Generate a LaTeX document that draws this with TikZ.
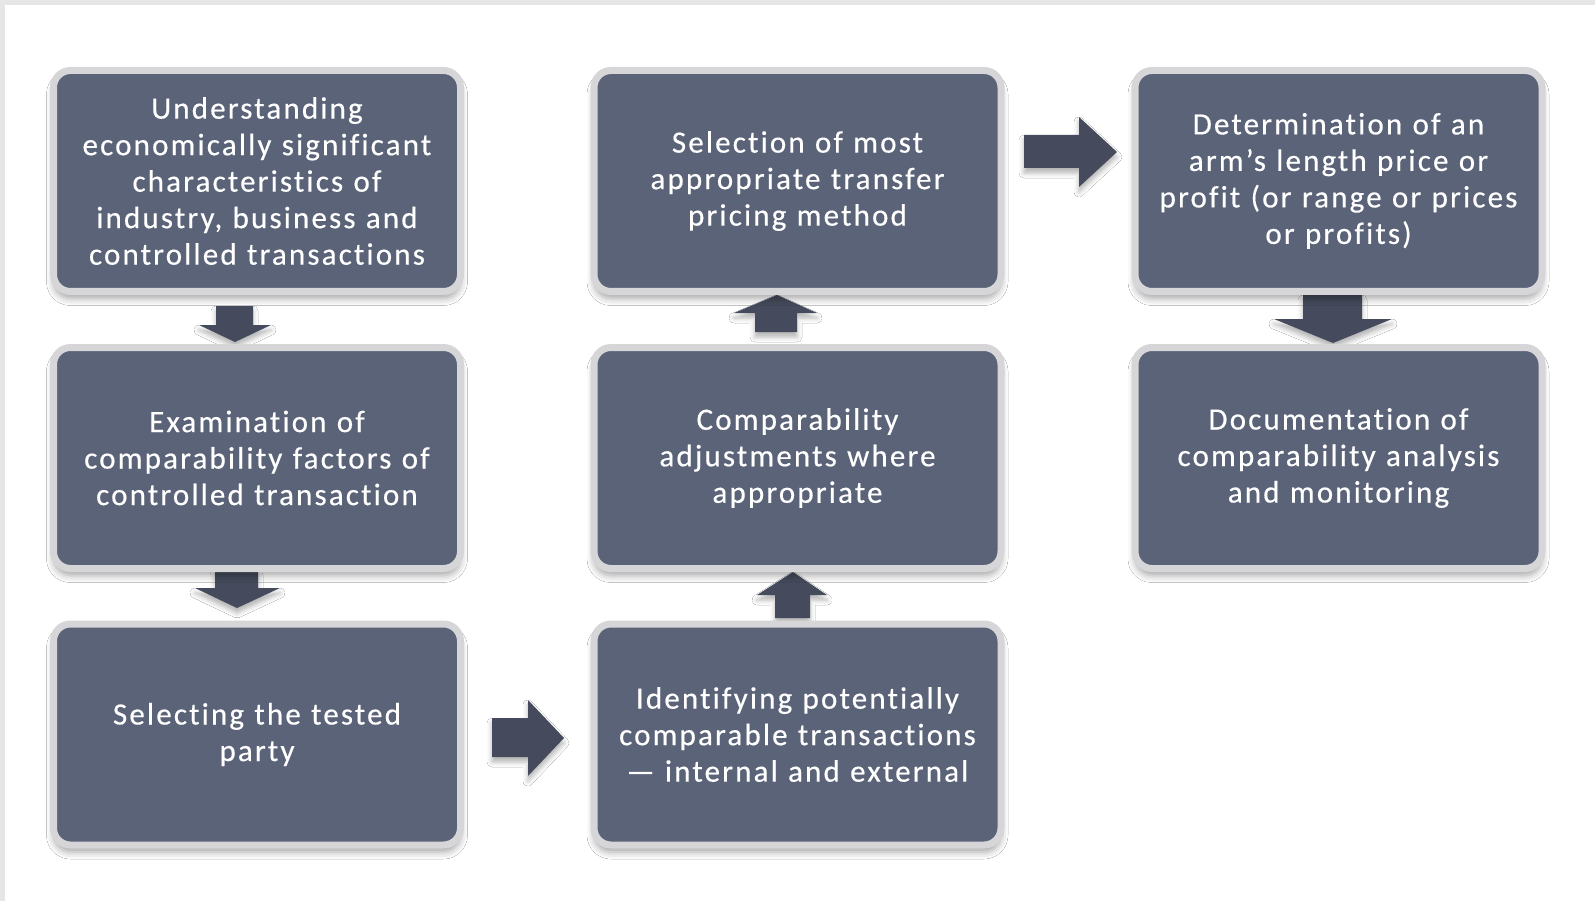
\documentclass[tikz,border=0pt]{standalone}
\usepackage{fontspec}
\setmainfont{Carlito}[LetterSpace=7, Ligatures=NoCommon, FakeBold=0.4]
\usetikzlibrary{shadows.blur}
\definecolor{boxfill}{HTML}{5B6378}
\definecolor{boxrim}{HTML}{D6D6D8}
\definecolor{arrowcol}{HTML}{454B5C}
\definecolor{framegray}{HTML}{E6E6E6}
\tikzset{
  stepbox/.style={draw=boxrim, line width=7pt, fill=boxfill, rounded corners=17pt,
    minimum width=407pt, minimum height=221pt, inner sep=0pt,
    text=white, align=center, text width=400pt,
    font=\fontsize{31pt}{36.5pt}\selectfont,
    blur shadow={shadow xshift=0pt, shadow yshift=-7pt, shadow blur radius=7pt, shadow opacity=35}},
  blockarrow/.style={fill=arrowcol, draw=none,
    blur shadow={shadow xshift=0pt, shadow yshift=-5pt, shadow blur radius=5pt, shadow opacity=30}}
}
\begin{document}
\begin{tikzpicture}[x=1pt,y=-1pt]
\useasboundingbox (0,0) rectangle (1595,901);
\fill[white] (0,0) rectangle (1595,901);
\fill[framegray] (0,0) rectangle (1595,5);
\fill[framegray] (0,0) rectangle (5,901);

% arrows (drawn first so boxes overlap their ends)
\path[blockarrow] (216,306) -- (253,306) -- (253,325) -- (271,325) -- (235,342) -- (199,325) -- (216,325) -- cycle;
\path[blockarrow] (215,570) -- (258,570) -- (258,588) -- (280,588) -- (237,608) -- (195,588) -- (215,588) -- cycle;
\path[blockarrow] (492,718) -- (528,718) -- (528,700) -- (564,738) -- (528,776) -- (528,757) -- (492,757) -- cycle;
\path[blockarrow] (775,618) -- (810,618) -- (810,595) -- (827,595) -- (793,572) -- (757,595) -- (775,595) -- cycle;
\path[blockarrow] (755,332) -- (797,332) -- (797,313) -- (817,313) -- (777,295) -- (734,313) -- (755,313) -- cycle;
\path[blockarrow] (1024,135) -- (1079,135) -- (1079,117) -- (1117,152) -- (1079,187) -- (1079,168) -- (1024,168) -- cycle;
\path[blockarrow] (1303,295) -- (1362,295) -- (1362,319) -- (1392,319) -- (1333,343) -- (1274,319) -- (1303,319) -- cycle;

\node[stepbox] (b1) at (257,181) {Understanding\\economically significant\\characteristics of\\industry, business and\\controlled transactions};
\node[stepbox] (b2) at (257,458) {Examination of\\comparability factors of\\controlled transaction};
\node[stepbox] (b3) at (257,734.5) {Selecting the tested\\party};
\node[stepbox] (b4) at (797.5,734.5) {Identifying potentially\\comparable transactions\\— internal and external};
\node[stepbox] (b5) at (797.5,458) {Comparability\\adjustments where\\appropriate};
\node[stepbox] (b6) at (797.5,181) {Selection of most\\appropriate transfer\\pricing method};
\node[stepbox] (b7) at (1338.5,181) {Determination of an\\arm’s length price or\\profit (or range or prices\\or profits)};
\node[stepbox] (b8) at (1338.5,458) {Documentation of\\comparability analysis\\and monitoring};
\end{tikzpicture}
\end{document}
